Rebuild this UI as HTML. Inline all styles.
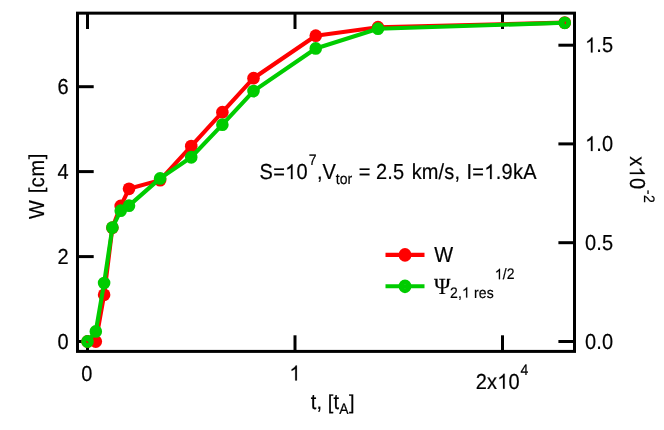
<!DOCTYPE html>
<html><head><meta charset="utf-8"><title>chart</title>
<style>html,body{margin:0;padding:0;background:#fff;}body{width:664px;height:430px;overflow:hidden;font-family:"Liberation Sans",sans-serif;}svg{will-change:transform;}svg text{text-rendering:geometricPrecision;}</style>
</head><body>
<svg width="664" height="430" viewBox="0 0 664 430" style="display:block">
<rect x="0" y="0" width="664" height="430" fill="#ffffff"/>
<g stroke="#000" stroke-width="3" fill="none">
<rect x="77.5" y="13.15" width="497" height="338.25"/>
<line x1="87.5" y1="351.5" x2="87.5" y2="335.3"/>
<line x1="87.5" y1="13" x2="87.5" y2="29"/>
<line x1="295.0" y1="351.5" x2="295.0" y2="335.3"/>
<line x1="295.0" y1="13" x2="295.0" y2="29"/>
<line x1="502.5" y1="351.5" x2="502.5" y2="335.3"/>
<line x1="502.5" y1="13" x2="502.5" y2="29"/>
<line x1="77.5" y1="341.5" x2="93.7" y2="341.5"/>
<line x1="77.5" y1="256.6" x2="93.7" y2="256.6"/>
<line x1="77.5" y1="171.6" x2="93.7" y2="171.6"/>
<line x1="77.5" y1="86.7" x2="93.7" y2="86.7"/>
<line x1="574.5" y1="341.5" x2="558.4" y2="341.5"/>
<line x1="574.5" y1="242.7" x2="558.4" y2="242.7"/>
<line x1="574.5" y1="143.9" x2="558.4" y2="143.9"/>
<line x1="574.5" y1="45.2" x2="558.4" y2="45.2"/>
</g>
<polyline fill="none" stroke="#ff0000" stroke-width="4.1" stroke-linejoin="round" points="87.50,341.50 95.80,341.50 104.10,294.78 112.40,227.68 120.70,206.02 129.00,188.82 160.12,180.11 191.25,146.14 222.38,112.16 253.50,78.19 315.75,35.72 378.00,27.22 564.75,22.64"/>
<ellipse cx="87.50" cy="341.50" rx="6.3" ry="6.4" fill="#ff0000"/>
<ellipse cx="95.80" cy="341.50" rx="6.3" ry="6.4" fill="#ff0000"/>
<ellipse cx="104.10" cy="294.78" rx="6.3" ry="6.4" fill="#ff0000"/>
<ellipse cx="112.40" cy="227.68" rx="6.3" ry="6.4" fill="#ff0000"/>
<ellipse cx="120.70" cy="206.02" rx="6.3" ry="6.4" fill="#ff0000"/>
<ellipse cx="129.00" cy="188.82" rx="6.3" ry="6.4" fill="#ff0000"/>
<ellipse cx="160.12" cy="180.11" rx="6.3" ry="6.4" fill="#ff0000"/>
<ellipse cx="191.25" cy="146.14" rx="6.3" ry="6.4" fill="#ff0000"/>
<ellipse cx="222.38" cy="112.16" rx="6.3" ry="6.4" fill="#ff0000"/>
<ellipse cx="253.50" cy="78.19" rx="6.3" ry="6.4" fill="#ff0000"/>
<ellipse cx="315.75" cy="35.72" rx="6.3" ry="6.4" fill="#ff0000"/>
<ellipse cx="378.00" cy="27.22" rx="6.3" ry="6.4" fill="#ff0000"/>
<ellipse cx="564.75" cy="22.64" rx="6.3" ry="6.4" fill="#ff0000"/>

<polyline fill="none" stroke="#00cc00" stroke-width="4.1" stroke-linejoin="round" points="87.50,341.50 95.80,331.43 104.10,283.05 112.40,227.57 120.70,210.68 129.00,205.65 160.12,178.40 191.25,157.27 222.38,124.69 253.50,91.12 315.75,48.47 378.00,28.72 564.75,22.80"/>
<ellipse cx="87.50" cy="341.50" rx="3.85" ry="3.95" fill="none" stroke="#00cc00" stroke-width="4.90"/>
<ellipse cx="95.80" cy="331.43" rx="3.85" ry="3.95" fill="none" stroke="#00cc00" stroke-width="4.90"/>
<ellipse cx="104.10" cy="283.05" rx="3.85" ry="3.95" fill="none" stroke="#00cc00" stroke-width="4.90"/>
<ellipse cx="112.40" cy="227.57" rx="3.85" ry="3.95" fill="none" stroke="#00cc00" stroke-width="4.90"/>
<ellipse cx="120.70" cy="210.68" rx="3.85" ry="3.95" fill="none" stroke="#00cc00" stroke-width="4.90"/>
<ellipse cx="129.00" cy="205.65" rx="3.85" ry="3.95" fill="none" stroke="#00cc00" stroke-width="4.90"/>
<ellipse cx="160.12" cy="178.40" rx="3.85" ry="3.95" fill="none" stroke="#00cc00" stroke-width="4.90"/>
<ellipse cx="191.25" cy="157.27" rx="3.85" ry="3.95" fill="none" stroke="#00cc00" stroke-width="4.90"/>
<ellipse cx="222.38" cy="124.69" rx="3.85" ry="3.95" fill="none" stroke="#00cc00" stroke-width="4.90"/>
<ellipse cx="253.50" cy="91.12" rx="3.85" ry="3.95" fill="none" stroke="#00cc00" stroke-width="4.90"/>
<ellipse cx="315.75" cy="48.47" rx="3.85" ry="3.95" fill="none" stroke="#00cc00" stroke-width="4.90"/>
<ellipse cx="378.00" cy="28.72" rx="3.85" ry="3.95" fill="none" stroke="#00cc00" stroke-width="4.90"/>
<ellipse cx="564.75" cy="22.80" rx="3.85" ry="3.95" fill="none" stroke="#00cc00" stroke-width="4.90"/>

<line x1="385.5" y1="254.9" x2="424.5" y2="254.9" stroke="#ff0000" stroke-width="4.1"/>
<ellipse cx="405.00" cy="254.90" rx="6.4" ry="6.85" fill="#ff0000"/>

<line x1="385.5" y1="286.3" x2="424.5" y2="286.3" stroke="#00cc00" stroke-width="4.1"/>
<ellipse cx="405.00" cy="286.30" rx="3.90" ry="4.35" fill="none" stroke="#00cc00" stroke-width="5.00"/>

<g font-family="'Liberation Sans', sans-serif" font-size="20" fill="#000" stroke="#000" stroke-width="0.18">
<g transform="translate(68.5,349.00) scale(1,1.085)"><text x="-11.12" y="0.00">0</text></g>
<g transform="translate(68.5,264.10) scale(1,1.085)"><text x="-11.12" y="0.00">2</text></g>
<g transform="translate(68.5,179.10) scale(1,1.085)"><text x="-11.12" y="0.00">4</text></g>
<g transform="translate(68.5,94.20) scale(1,1.085)"><text x="-11.12" y="0.00">6</text></g>
<g transform="translate(585.1,348.70) scale(1,1.085)"><text x="0.00" y="0.00">0</text><text x="11.22" y="0.00">.</text><text x="16.88" y="0.00">0</text></g>
<g transform="translate(585.1,249.90) scale(1,1.085)"><text x="0.00" y="0.00">0</text><text x="11.22" y="0.00">.</text><text x="16.88" y="0.00">5</text></g>
<g transform="translate(585.1,151.10) scale(1,1.085)"><path d="M763 0H593V1102Q518 1043 412 983Q307 924 223 894V1061Q374 1129 487 1226Q600 1323 647 1409H763Z" transform="translate(0.00,0.00) scale(0.00977,-0.00977)" stroke-width="18.4"/><text x="11.22" y="0.00">.</text><text x="16.88" y="0.00">0</text></g>
<g transform="translate(585.1,52.40) scale(1,1.085)"><path d="M763 0H593V1102Q518 1043 412 983Q307 924 223 894V1061Q374 1129 487 1226Q600 1323 647 1409H763Z" transform="translate(0.00,0.00) scale(0.00977,-0.00977)" stroke-width="18.4"/><text x="11.22" y="0.00">.</text><text x="16.88" y="0.00">5</text></g>
<g transform="translate(86.9,380.6) scale(1,1.085)"><text x="-5.56" y="0.00">0</text></g>
<g transform="translate(295,380.4) scale(1,1.085)"><path d="M763 0H593V1102Q518 1043 412 983Q307 924 223 894V1061Q374 1129 487 1226Q600 1323 647 1409H763Z" transform="translate(-5.56,0.00) scale(0.00977,-0.00977)" stroke-width="18.4"/></g>
<g transform="translate(475.7,388.7) scale(1,1.085)"><text x="0.00" y="0.00">2</text><text x="11.32" y="0.00">x</text><path d="M763 0H593V1102Q518 1043 412 983Q307 924 223 894V1061Q374 1129 487 1226Q600 1323 647 1409H763Z" transform="translate(21.52,0.00) scale(0.00977,-0.00977)" stroke-width="18.4"/><text x="32.85" y="0.00">0</text><text x="44.77" y="-12.81" font-size="14">4</text></g>
<g transform="translate(310.8,409.1) scale(1,1.085)"><text x="0.00" y="0.00">t</text><text x="5.68" y="0.00">,</text><text transform="translate(17.03,-0.28) scale(1,0.93)">[</text><text x="22.59" y="0.00">t</text><text x="28.46" y="4.79" font-size="14">A</text><text transform="translate(38.30,-0.28) scale(1,0.93)">]</text></g>
<g transform="translate(43.5,186.4) rotate(-90) scale(1,1.085)"><text x="-32.60" y="0.00">W</text><text transform="translate(-6.97,-0.28) scale(1,0.93)">[</text><text x="-0.81" y="0.00">c</text><text x="9.79" y="0.00">m</text><text transform="translate(27.05,-0.28) scale(1,0.93)">]</text></g>
<g transform="translate(629.8,156.3) rotate(90) scale(1,1.085)"><text x="0.00" y="0.00">x</text><path d="M763 0H593V1102Q518 1043 412 983Q307 924 223 894V1061Q374 1129 487 1226Q600 1323 647 1409H763Z" transform="translate(10.35,0.00) scale(0.00977,-0.00977)" stroke-width="18.4"/><text x="21.82" y="0.00">0</text><text x="33.80" y="-12.90" font-size="14">-</text><text x="38.66" y="-12.90" font-size="14">2</text></g>
<g transform="translate(259.5,179.1) scale(1,1.085)"><text x="0.00" y="0.00">S</text><text x="13.64" y="0.00">=</text><path d="M763 0H593V1102Q518 1043 412 983Q307 924 223 894V1061Q374 1129 487 1226Q600 1323 647 1409H763Z" transform="translate(25.62,0.00) scale(0.00977,-0.00977)" stroke-width="18.4"/><text x="37.04" y="0.00">0</text><text x="49.17" y="-12.63" font-size="14">7</text><text x="57.45" y="0.00">,</text><text x="63.01" y="0.00">V</text><text x="76.35" y="4.33" font-size="14">t</text><text x="80.24" y="4.33" font-size="14">o</text><text x="88.02" y="4.33" font-size="14">r</text><text x="99.14" y="0.00">=</text><text x="116.48" y="0.00">2</text><text x="127.72" y="0.00">.</text><text x="133.40" y="0.00">5</text><text x="152.15" y="0.00">k</text><text x="162.30" y="0.00">m</text><text x="179.11" y="0.00">/</text><text x="184.82" y="0.00">s</text><text x="194.97" y="0.00">,</text><text x="206.92" y="0.00">I</text><text x="212.77" y="0.00">=</text><path d="M763 0H593V1102Q518 1043 412 983Q307 924 223 894V1061Q374 1129 487 1226Q600 1323 647 1409H763Z" transform="translate(224.73,0.00) scale(0.00977,-0.00977)" stroke-width="18.4"/><text x="236.15" y="0.00">.</text><text x="241.99" y="0.00">9</text><text x="253.41" y="0.00">k</text><text x="263.70" y="0.00">A</text></g>
<g transform="translate(434.3,261.5) scale(1,1.085)"><text x="0.00" y="0.00">W</text></g>
<g transform="translate(434,293.0) scale(1,1.085)"><text transform="translate(0.00,0.83) scale(1,0.95)" font-size="22.3" font-family="'Liberation Serif', serif">Ψ</text><text x="16.05" y="4.24" font-size="14">2</text><text x="23.99" y="4.24" font-size="14">,</text><path d="M763 0H593V1102Q518 1043 412 983Q307 924 223 894V1061Q374 1129 487 1226Q600 1323 647 1409H763Z" transform="translate(28.03,4.24) scale(0.00684,-0.00684)" stroke-width="26.3"/><text x="40.00" y="4.24" font-size="14">r</text><text x="44.82" y="4.24" font-size="14">e</text><text x="52.75" y="4.24" font-size="14">s</text><path d="M763 0H593V1102Q518 1043 412 983Q307 924 223 894V1061Q374 1129 487 1226Q600 1323 647 1409H763Z" transform="translate(60.80,-12.72) scale(0.00684,-0.00684)" stroke-width="26.3"/><text x="68.74" y="-12.72" font-size="14">/</text><text x="72.78" y="-12.72" font-size="14">2</text></g>
</g>
</svg>
</body></html>
